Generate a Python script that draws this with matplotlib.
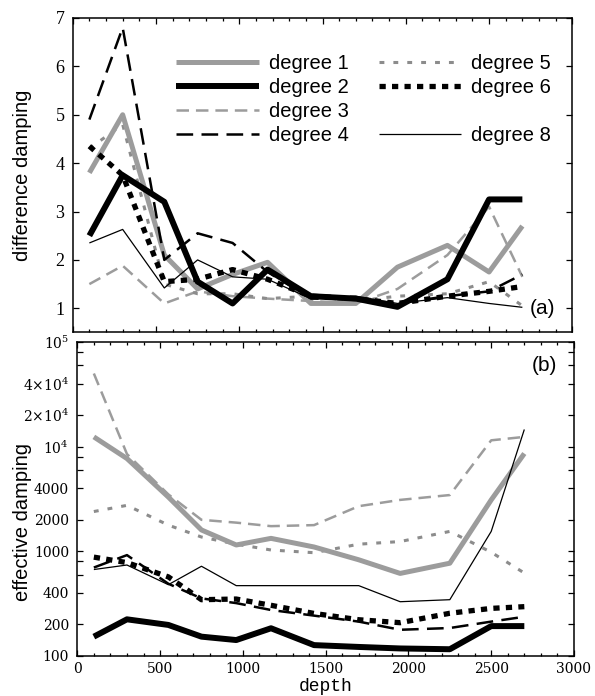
import numpy as np
import matplotlib
matplotlib.use('Agg')
import matplotlib.pyplot as plt
from matplotlib.ticker import FixedLocator, FixedFormatter, MultipleLocator, NullLocator
from matplotlib.lines import Line2D

depth = [100, 300, 550, 750, 960, 1170, 1430, 1700, 1950, 2250, 2500, 2700]

# (a) difference damping
diff_deg1 = [3.8, 5.0, 2.1, 1.4, 1.7, 1.95, 1.1, 1.1, 1.85, 2.3, 1.75, 2.7]
diff_deg2 = [2.5, 3.75, 3.2, 1.55, 1.1, 1.8, 1.25, 1.2, 1.03, 1.6, 3.25, 3.25]
diff_deg3 = [1.5, 1.88, 1.1, 1.35, 1.25, 1.2, 1.15, 1.1, 1.4, 2.1, 3.1, 1.65]
diff_deg4 = [4.9, 6.8, 2.0, 2.55, 2.35, 1.75, 1.2, 1.2, 1.1, 1.25, 1.35, 1.7]
diff_deg5 = [4.3, 4.8, 1.5, 1.3, 1.3, 1.2, 1.25, 1.15, 1.25, 1.3, 1.55, 1.05]
diff_deg6 = [4.35, 3.75, 1.55, 1.6, 1.8, 1.6, 1.25, 1.2, 1.1, 1.25, 1.35, 1.45]
diff_deg8 = [2.35, 2.63, 1.42, 2.0, 1.65, 1.6, 1.2, 1.25, 1.1, 1.22, 1.1, 1.02]

# (b) effective damping
eff_deg1 = [12400, 7700, 3300, 1600, 1150, 1330, 1100, 830, 615, 770, 3100, 8600]
eff_deg2 = [153, 224, 198, 153, 142, 184, 127, 122, 118, 116, 193, 193]
eff_deg3 = [50000, 8500, 3500, 2000, 1880, 1740, 1780, 2700, 3100, 3450, 11500, 12400]
eff_deg4 = [700, 920, 490, 355, 320, 275, 243, 213, 178, 185, 213, 237]
eff_deg5 = [2400, 2750, 1780, 1370, 1170, 1030, 970, 1170, 1240, 1550, 980, 620]
eff_deg6 = [880, 780, 570, 345, 350, 305, 255, 222, 208, 256, 285, 296]
eff_deg8 = [670, 740, 480, 720, 470, 470, 470, 470, 330, 345, 1550, 14600]

labels = ['degree 1', 'degree 2', 'degree 3', 'degree 4',
          'degree 5', 'degree 6', 'degree 8']
ytick_vals = [100, 200, 400, 600, 800, 1000, 2000, 4000, 6000, 8000,
              1e4, 2e4, 4e4, 6e4, 8e4, 1e5]
ytick_text = ['100', '200', '400', '', '', '1000', '2000', '4000', '', '',
              r'$10^4$', r'$2{\times}10^4$', r'$4{\times}10^4$', '', '', r'$10^5$']

plt.rcParams['lines.scale_dashes'] = False
plt.rcParams['mathtext.fontset'] = 'dejavuserif'

gray = '#9c9c9c'
styles = [
    dict(color=gray, lw=3.6, ls='-'),
    dict(color='black', lw=4.3, ls='-'),
    dict(color=gray, lw=1.8, ls=(0, (9, 5))),
    dict(color='black', lw=1.8, ls=(0, (12, 6))),
    dict(color='#8c8c8c', lw=2.2, ls=(0, (3.5, 6.5))),
    dict(color='black', lw=3.8, ls=(0, (4.5, 4.5))),
    dict(color='black', lw=0.9, ls='-'),
]

fig = plt.figure(figsize=(5.95, 6.96), dpi=100)
ax1 = fig.add_axes([0.1222, 0.5223, 0.8397, 0.4519])
ax2 = fig.add_axes([0.1299, 0.0575, 0.8348, 0.4511])

top_series = [diff_deg1, diff_deg2, diff_deg3, diff_deg4, diff_deg5, diff_deg6, diff_deg8]
bot_series = [eff_deg1, eff_deg2, eff_deg3, eff_deg4, eff_deg5, eff_deg6, eff_deg8]
draw_order = [2, 4, 0, 6, 3, 5, 1]

for i in draw_order:
    ax1.plot(depth, top_series[i], solid_capstyle='butt', **styles[i])
    ax2.plot(depth, bot_series[i], solid_capstyle='butt', **styles[i])

for ax in (ax1, ax2):
    ax.set_xlim(0, 3000)
    ax.xaxis.set_major_locator(MultipleLocator(500))
    ax.xaxis.set_minor_locator(MultipleLocator(100))
    ax.tick_params(which='both', direction='in', top=True, right=True, width=0.9)
    ax.tick_params(which='major', length=4)
    ax.tick_params(which='minor', length=2.5)
    for s in ax.spines.values():
        s.set_linewidth(1.1)

ax1.set_ylim(0.5, 7)
ax1.set_yticks([1, 2, 3, 4, 5, 6, 7])
ax1.tick_params(axis='x', labelbottom=False)
ax1.tick_params(axis='y', pad=6)
for t in ax1.get_yticklabels():
    t.set_fontfamily('Liberation Serif')
    t.set_fontsize(13)

ax2.set_yscale('log')
ax2.set_ylim(100, 1e5)
ax2.yaxis.set_major_locator(FixedLocator(ytick_vals))
ax2.yaxis.set_major_formatter(FixedFormatter(ytick_text))
ax2.yaxis.set_minor_locator(NullLocator())
ax2.tick_params(axis='y', pad=6)
ax2.tick_params(axis='x', pad=4)
for t in ax2.get_yticklabels() + ax2.get_xticklabels():
    t.set_fontfamily('DejaVu Serif')
    t.set_fontsize(10)

ax2.set_xlabel('depth', family='Liberation Mono', fontsize=13, labelpad=2)

fig.text(23 / 595, 1 - 175 / 696, 'difference damping', rotation=90,
         ha='center', va='center', family='Liberation Sans', fontsize=14.5)
fig.text(23 / 595, 1 - 522 / 696, 'effective damping', rotation=90,
         ha='center', va='center', family='Liberation Sans', fontsize=14.5)

ax1.text(0.94, 0.075, '(a)', transform=ax1.transAxes, ha='center', va='center',
         family='Liberation Sans', fontsize=15)
ax2.text(0.94, 0.925, '(b)', transform=ax2.transAxes, ha='center', va='center',
         family='Liberation Sans', fontsize=15)

# legend: two columns, the slot before degree 8 left empty
handles = [Line2D([], [], solid_capstyle='butt', **st) for st in styles]
labs = list(labels)
handles.insert(6, Line2D([], [], color='none'))
labs.insert(6, ' ')
ax1.legend(handles, labs, loc='upper left', bbox_to_anchor=(0.207, 0.885),
           ncol=2, frameon=False, handlelength=4.1, handletextpad=0.5,
           columnspacing=1.5, labelspacing=0.24, borderpad=0, borderaxespad=0,
           prop={'family': 'Liberation Sans', 'size': 14.5})

fig.savefig('out.png', dpi=100)
